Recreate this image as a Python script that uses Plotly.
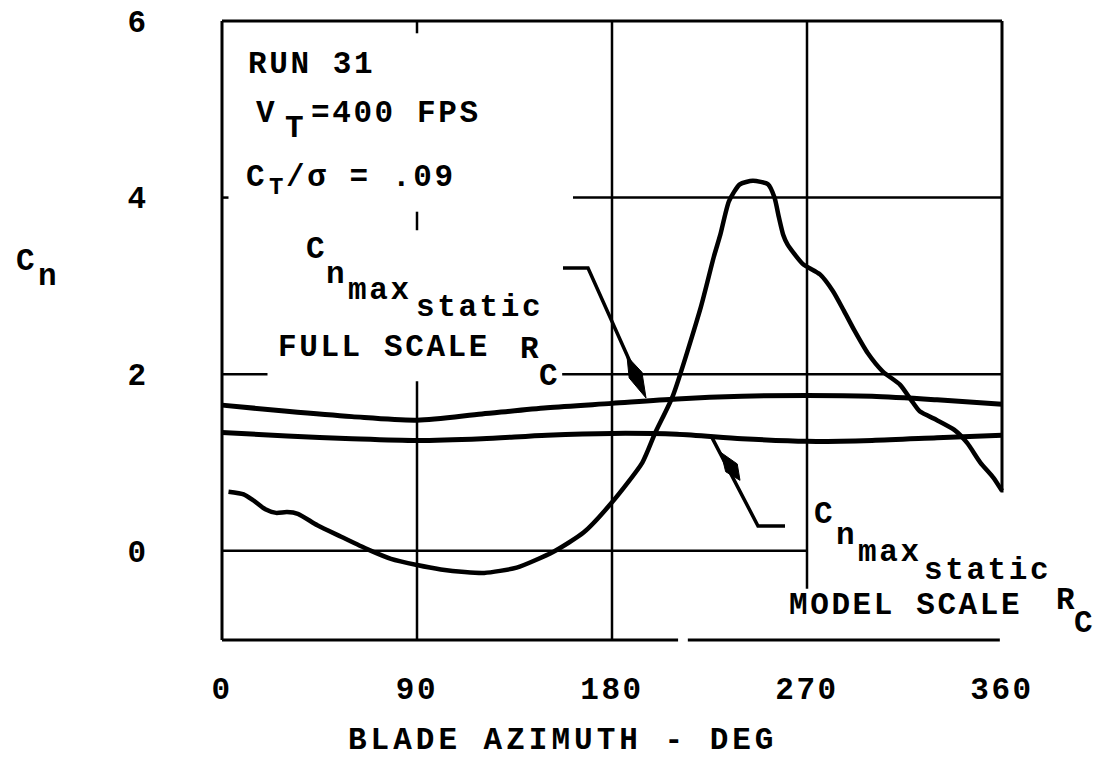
import plotly.graph_objects as go

# ---- data -------------------------------------------------------------
# blade normal-force coefficient around the azimuth (run 31)
azimuth = [3, 10, 14, 20, 25, 30, 35, 44, 55, 67, 78, 90, 101, 112, 121,
           136, 153, 167, 180, 194, 200, 208, 221, 227, 230, 234, 239, 245,
           252, 255, 257, 259, 261, 268, 276, 282, 287, 292, 298, 305, 313,
           318, 322, 330, 338, 344, 350, 356, 360]
cn_blade = [0.67, 0.64, 0.58, 0.47, 0.43, 0.44, 0.42, 0.29, 0.16, 0.02,
            -0.09, -0.16, -0.21, -0.24, -0.25, -0.19, -0.01, 0.21, 0.55,
            1.00, 1.34, 1.75, 2.76, 3.33, 3.58, 3.96, 4.15, 4.19, 4.15,
            4.00, 3.78, 3.58, 3.47, 3.25, 3.13, 2.94, 2.72, 2.49, 2.24,
            2.03, 1.88, 1.71, 1.58, 1.48, 1.37, 1.22, 1.00, 0.83, 0.68]

# static stall limits
static_az = [0, 30, 60, 90, 120, 150, 180, 210, 240, 270, 300, 330, 360]
cn_max_full = [1.65, 1.58, 1.52, 1.48, 1.55, 1.62, 1.67, 1.72, 1.75, 1.76,
               1.75, 1.71, 1.66]
cn_max_model = [1.34, 1.30, 1.27, 1.25, 1.27, 1.31, 1.33, 1.32, 1.27, 1.24,
                1.25, 1.28, 1.31]

x_ticks = [0, 90, 180, 270, 360]
y_ticks = [0, 2, 4, 6]

# ---- geometry ---------------------------------------------------------
W, H = 1101, 759
FL, FR, FT, FB = 222, 1002, 16, 640      # frame box in pixels
X0, X1 = 0, 360
Y0, Y1 = -1.01, 6.0
PAD = 10
kx = (X1 - X0) / (FR - FL)
ky = (Y1 - Y0) / (FB - FT)

PL, PT = FL - PAD, FT - PAD               # plot area origin
PW, PH = (FR - FL) + 2 * PAD, (FB - FT) + 2 * PAD


def dx(px):
    return X0 + (px - FL) * kx


def dy(py):
    return Y1 - (py - FT) * ky


def paper_x(px):
    return (px - PL) / PW


def paper_y(py):
    return 1 - (py - PT) / PH


FONT = "Liberation Mono, Courier New, monospace"
ASC, DESC = 0.833, 0.300
LS = 2.6


def spaced(s, ls=LS):
    return f'<span style="letter-spacing:{ls}px">{s}</span>'


annotations = []


def label(s, left, base, size=31, ls=LS):
    center = base - (ASC - DESC) / 2 * size
    annotations.append(dict(
        x=paper_x(left), y=paper_y(center), xref="paper", yref="paper",
        text=spaced(s, ls), showarrow=False, xanchor="left",
        yanchor="middle", borderpad=0,
        font=dict(family=FONT, size=size, color="black", weight="bold")))


shapes = []


def seg(x0, y0, x1, y1, w=2.5):
    shapes.append(dict(type="line", xref="x", yref="y", x0=x0, y0=y0,
                       x1=x1, y1=y1, line=dict(color="black", width=w)))


def poly_px(points, fill=True, w=3.5):
    path = "M " + " L ".join(f"{dx(px)},{dy(py)}" for px, py in points)
    if fill:
        path += " Z"
    shapes.append(dict(type="path", xref="x", yref="y", path=path,
                       fillcolor="black" if fill else None,
                       line=dict(color="black", width=w if not fill else 1)))


def arrow_head(tip, back, width=14):
    (tx, ty), (bx, by) = tip, back
    vx, vy = tx - bx, ty - by
    n = (vx * vx + vy * vy) ** 0.5
    ux, uy = vx / n, vy / n
    mx, my = bx + vx * 0.45, by + vy * 0.45
    h = width / 2
    poly_px([(tx, ty), (mx - uy * h, my + ux * h), (bx, by),
             (mx + uy * h, my - ux * h)])


# ---- grid (broken where the lettering sits) ---------------------------
seg(90, 6.0, 90, 5.86)
seg(90, 3.84, 90, 3.63)
seg(90, 1.92, 90, Y0)
seg(180, 6.0, 180, Y0)
seg(270, 6.0, 270, -0.43)
seg(0, 4, 3, 4)
seg(162, 4, 360, 4)
seg(0, 2, 21, 2)
seg(157, 2, 360, 2)
seg(0, 0, 270, 0)

# frame
seg(0, 6.0, 360, 6.0, 3)
seg(0, 6.0, 0, Y0, 3)
seg(360, 6.0, 360, 0.66, 3)
seg(0, Y0, 210.5, Y0, 3)
seg(215, Y0, 359, Y0, 3)

# leaders with arrowheads
poly_px([(563, 265), (588, 265), (640, 382)], fill=False)
arrow_head((646, 396), (627, 354))
poly_px([(712, 436), (758, 525), (785, 525)], fill=False)
arrow_head((721, 451), (740, 479))

# ---- lettering --------------------------------------------------------
label("RUN 31", 247, 68)
label("V", 255, 118)
label("T", 284, 133)
label("=400 FPS", 310, 118)
label("C", 245, 182)
label("T", 268, 190, size=24)
label("/σ = .09", 285, 182)

label("C", 305, 255)
label("n", 325, 280)
label("max", 347, 296)
label("static", 415, 313)
label("FULL SCALE", 277, 353)
label("R", 519, 355)
label("C", 538, 383)

label("C", 813, 522)
label("n", 835, 543)
label("max", 857, 560)
label("static", 923, 578)
label("MODEL SCALE", 788, 613)
label("R", 1055, 608)
label("C", 1073, 632)

label("C", 15, 267)
label("n", 37, 282)
label("BLADE AZIMUTH - DEG", 347, 749, ls=4)

# ---- figure -----------------------------------------------------------
line_style = dict(color="black", width=5, shape="spline", smoothing=0.8)
fig = go.Figure()
fig.add_trace(go.Scatter(x=static_az, y=cn_max_full, mode="lines",
                         line=line_style, hoverinfo="skip"))
fig.add_trace(go.Scatter(x=static_az, y=cn_max_model, mode="lines",
                         line=line_style, hoverinfo="skip"))
fig.add_trace(go.Scatter(x=azimuth, y=cn_blade, mode="lines",
                         line=dict(color="black", width=4.5, shape="spline",
                                   smoothing=0.6),
                         hoverinfo="skip"))

tick_font = dict(family=FONT, size=31, color="black", weight="bold")
fig.update_layout(
    width=W, height=H,
    margin=dict(l=PL, r=W - FR - PAD, t=PT, b=H - FB - PAD),
    paper_bgcolor="white", plot_bgcolor="white",
    showlegend=False,
    shapes=shapes, annotations=annotations,
    font=dict(family=FONT, size=31, color="black"),
)
fig.update_xaxes(
    range=[X0 - PAD * kx, X1 + PAD * kx],
    tickvals=x_ticks, ticktext=[spaced(str(v)) for v in x_ticks],
    showgrid=False, zeroline=False, showline=False, ticks="",
    ticklabelstandoff=17, tickfont=tick_font,
)
fig.update_yaxes(
    range=[Y0 - PAD * ky, Y1 + PAD * ky],
    tickvals=y_ticks, ticktext=[str(v) for v in y_ticks],
    showgrid=False, zeroline=False, showline=False, ticks="",
    ticklabelstandoff=65, tickfont=tick_font,
)

fig.write_html("out.html")
